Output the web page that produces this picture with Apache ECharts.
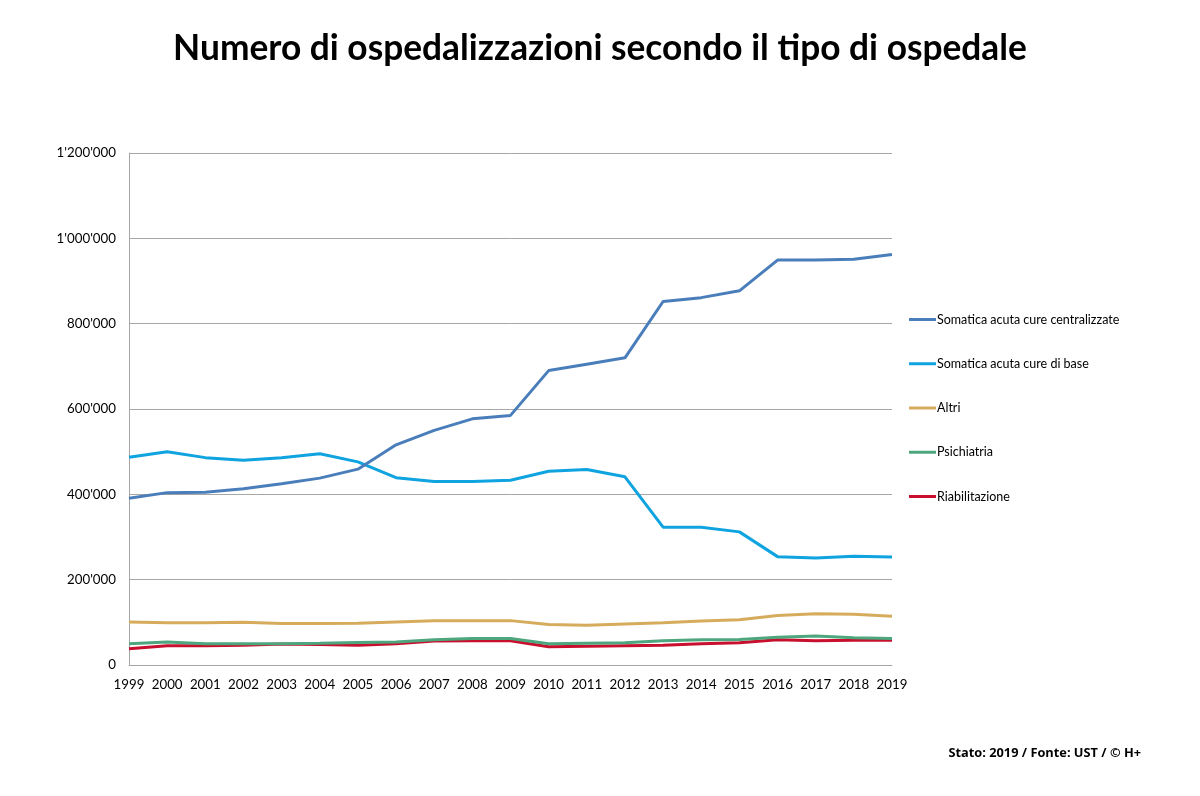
<!DOCTYPE html>
<html><head><meta charset="utf-8">
<script src="https://cdn.jsdelivr.net/npm/echarts@6/dist/echarts.min.js"></script>
<style>html,body{margin:0;padding:0;background:#fff}#c{width:1200px;height:796px}</style>
</head><body><div id="c"></div>
<script>
const years = ['1999','2000','2001','2002','2003','2004','2005','2006','2007','2008','2009','2010','2011','2012','2013','2014','2015','2016','2017','2018','2019'];
const centralizzate = [391000,404000,405000,413000,425000,438000,459000,516000,550000,577000,585000,690000,705000,720000,852000,861000,877000,949000,949000,951000,962000];
const base = [487000,500000,486000,480000,486000,495000,476000,439000,430000,430000,433000,454000,458000,441000,323000,323000,312000,254000,251000,255000,253000];
const altri = [101000,99000,99000,100000,97000,97000,98000,101000,104000,104000,104000,95000,93000,96000,99000,103000,106000,116000,120000,119000,114000];
const psichiatria = [50000,54000,50000,50000,50000,51000,53000,54000,59000,62000,62000,50000,51000,52000,57000,59000,60000,65000,68000,64000,62000];
const riabilitazione = [38000,45000,45000,46000,49000,48000,46000,50000,56000,57000,57000,43000,44000,45000,46000,50000,52000,59000,57000,58000,58000];
const names = ['Somatica acuta cure centralizzate','Somatica acuta cure di base','Altri','Psichiatria','Riabilitazione'];
const colors = ['#4a7ebb','#0fa3e0','#d6ac5c','#4ea67e','#c8102e'];
const dataSets = [centralizzate, base, altri, psichiatria, riabilitazione];

function fmt(v){ return String(v).replace(/\B(?=(\d{3})+(?!\d))/g, "'"); }

const chart = echarts.init(document.getElementById('c'));
chart.setOption({
  animation:false,
  title:[{text:'Numero di ospedalizzazioni secondo il tipo di ospedale',left:'center',top:26,
    textStyle:{fontFamily:'Lato',fontWeight:'bold',fontSize:35.3,color:'#000'}},
    {text:'Stato: 2019 / Fonte: UST / © H+',right:54,top:742,
    textStyle:{fontFamily:'Open Sans',fontWeight:'bold',fontSize:12.8,color:'#000'}}],
  legend:{orient:'vertical',left:909,top:312.5,padding:0,itemGap:30.25,icon:'rect',itemWidth:27,itemHeight:3,
    textStyle:{fontFamily:'Lato',fontSize:12.5,lineHeight:14,color:'#000',padding:[0,0,0,-4]},
    data:names},
  grid:{left:129,right:308,top:153,bottom:131,containLabel:false},
  xAxis:{type:'category',data:years,boundaryGap:false,
    axisLine:{lineStyle:{color:'#a6a6a6'}},axisTick:{show:false},
    axisLabel:{interval:0,fontFamily:'Lato',fontSize:13.3,color:'#000',margin:13}},
  yAxis:{type:'value',min:0,max:1200000,interval:200000,
    axisLine:{show:true,lineStyle:{color:'#a6a6a6'}},axisTick:{show:false},
    splitLine:{lineStyle:{color:'#a6a6a6'}},
    axisLabel:{fontFamily:'Lato',fontSize:13.3,color:'#000',margin:13,formatter:fmt}},
  series: dataSets.map((d,i)=>({name:names[i],type:'line',data:d,symbol:'none',
    lineStyle:{width:3,color:colors[i]},itemStyle:{color:colors[i]},z:10-i}))
});
</script></body></html>
